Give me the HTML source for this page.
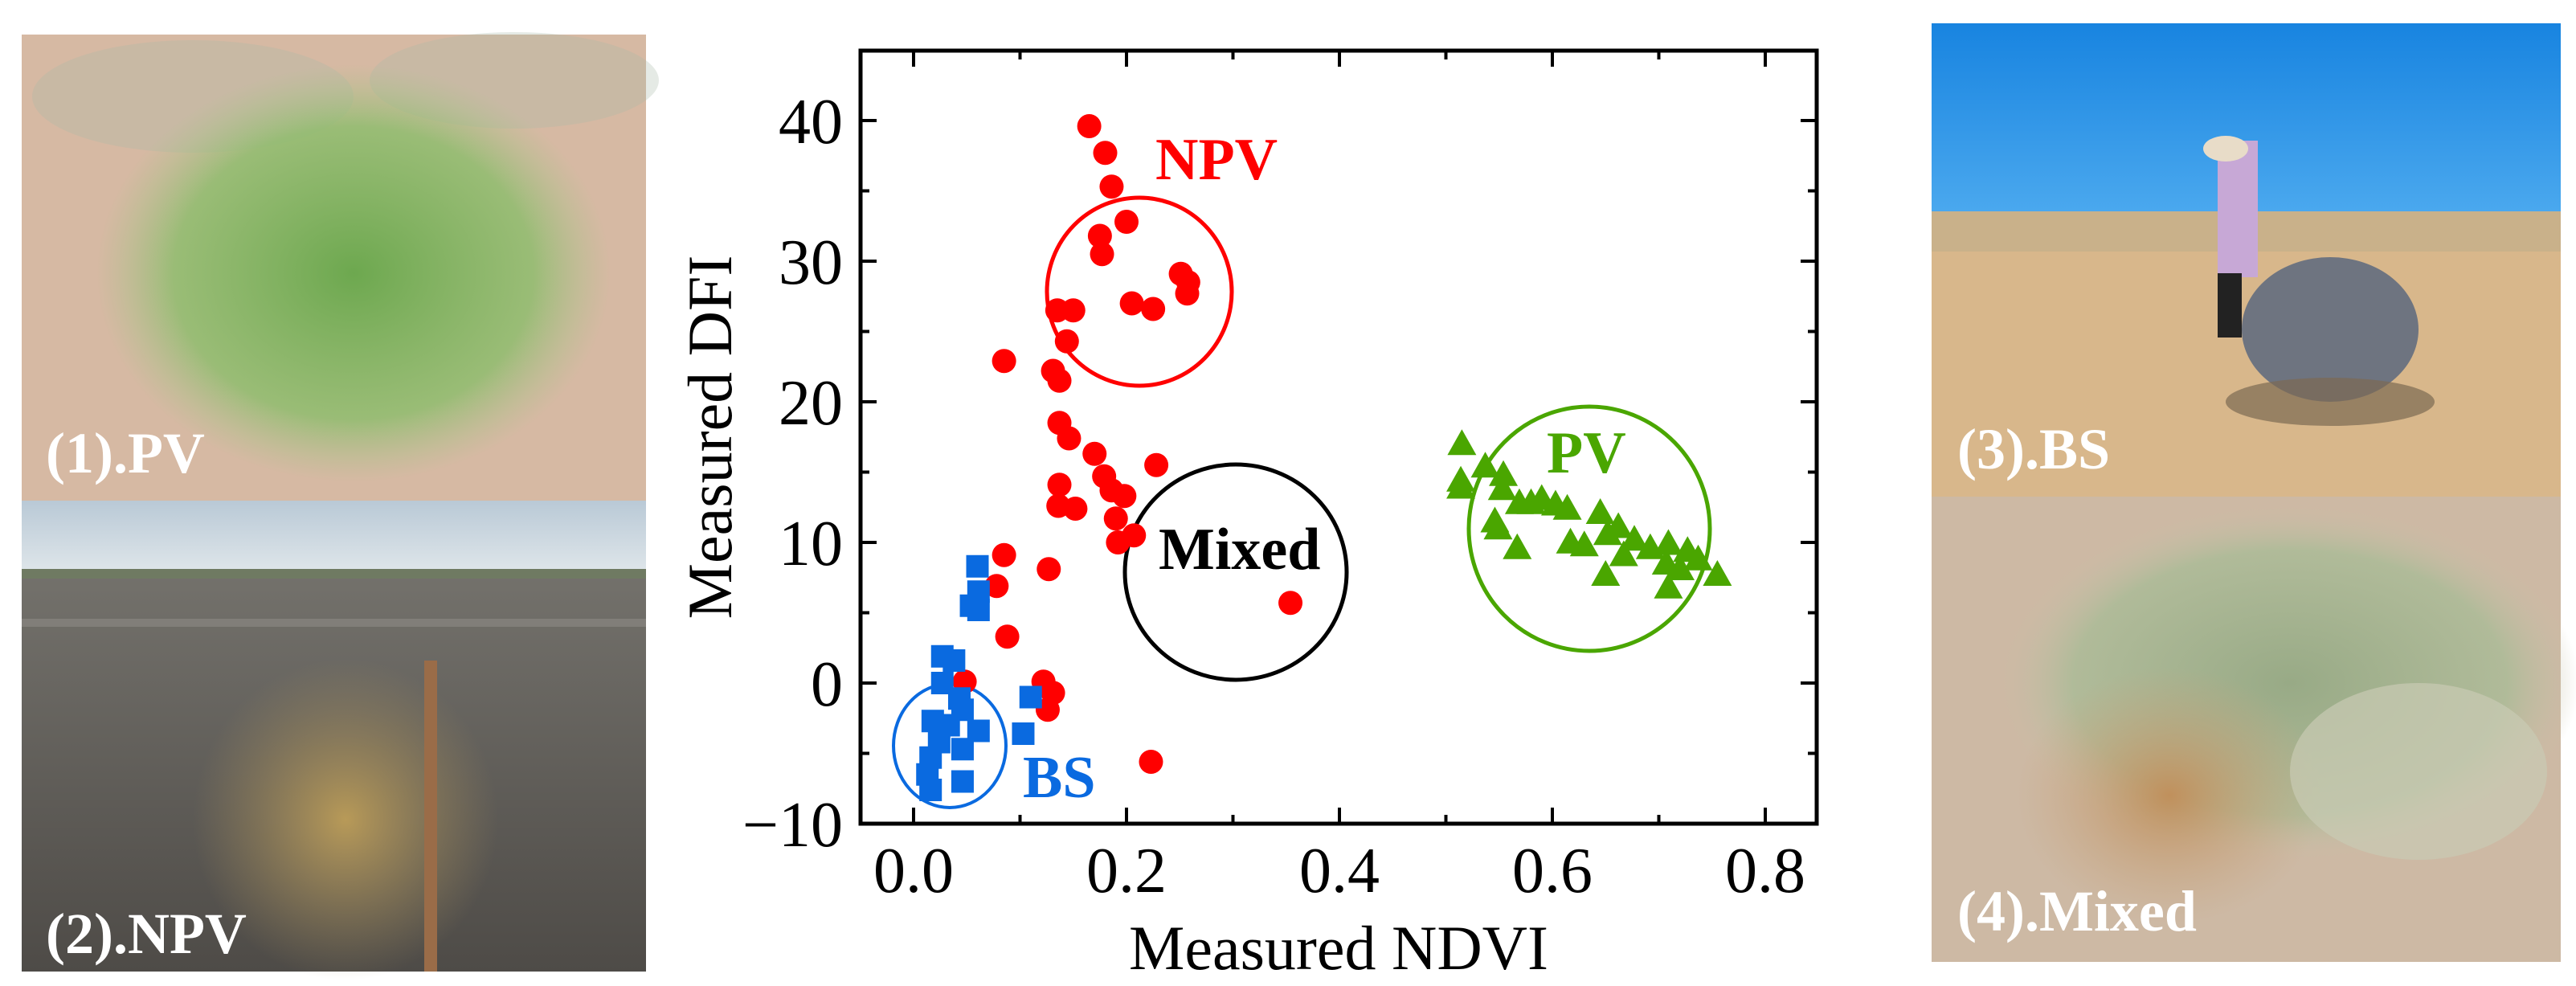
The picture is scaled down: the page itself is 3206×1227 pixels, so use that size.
<!DOCTYPE html>
<html><head><meta charset="utf-8"><style>
html,body{margin:0;padding:0;background:#fff;}
svg{display:block;font-family:"Liberation Serif","Times New Roman",serif;}
svg text{font-family:"Liberation Serif","Times New Roman",serif !important;}
</style></head><body>
<svg id="fig" width="3206" height="1227" viewBox="0 0 3206 1227" xmlns="http://www.w3.org/2000/svg" font-family="Liberation Serif, serif">
<defs>
<radialGradient id="g1" cx="0.5" cy="0.5" r="0.5"><stop offset="0" stop-color="#6da84f"/><stop offset="0.7" stop-color="#8fbd6e" stop-opacity="0.85"/><stop offset="1" stop-color="#a8c48a" stop-opacity="0"/></radialGradient>
<linearGradient id="sky2" x1="0" y1="0" x2="0" y2="1"><stop offset="0" stop-color="#b9c9d6"/><stop offset="1" stop-color="#dfe6ea"/></linearGradient>
<linearGradient id="gr2" x1="0" y1="0" x2="0" y2="1"><stop offset="0" stop-color="#7a7872"/><stop offset="1" stop-color="#4e4b47"/></linearGradient>
<linearGradient id="sky3" x1="0" y1="0" x2="0" y2="1"><stop offset="0" stop-color="#1884e0"/><stop offset="1" stop-color="#4aa8ee"/></linearGradient>
<radialGradient id="g4" cx="0.5" cy="0.5" r="0.5"><stop offset="0" stop-color="#98aa86"/><stop offset="0.75" stop-color="#adbb98" stop-opacity="0.9"/><stop offset="1" stop-color="#c8c0a8" stop-opacity="0"/></radialGradient>
<radialGradient id="b4" cx="0.5" cy="0.5" r="0.5"><stop offset="0" stop-color="#c0905c"/><stop offset="1" stop-color="#c8a47e" stop-opacity="0"/></radialGradient>
<radialGradient id="d2" cx="0.5" cy="0.5" r="0.5"><stop offset="0" stop-color="#b89a58"/><stop offset="1" stop-color="#a08a5c" stop-opacity="0"/></radialGradient>
</defs>

<g>
<rect x="27" y="43" width="777" height="580" fill="#d6b9a3"/>
<ellipse cx="240" cy="120" rx="200" ry="70" fill="#a9b9a8" opacity="0.3"/>
<ellipse cx="640" cy="100" rx="180" ry="60" fill="#a9b9a8" opacity="0.3"/>
<ellipse cx="440" cy="340" rx="320" ry="260" fill="url(#g1)"/>
<text x="57" y="588" font-size="72" font-weight="bold" fill="#fff" font-family="Liberation Serif, serif">(1).PV</text>
</g>
<g>
<rect x="27" y="623" width="777" height="586" fill="url(#gr2)"/>
<rect x="27" y="623" width="777" height="90" fill="url(#sky2)"/>
<rect x="27" y="708" width="777" height="12" fill="#6f7a62"/>
<rect x="27" y="770" width="777" height="10" fill="#8d8a85" opacity="0.6"/>
<ellipse cx="430" cy="1020" rx="190" ry="200" fill="url(#d2)"/>
<rect x="528" y="822" width="16" height="387" fill="#9a6c48"/>
<text x="57" y="1186" font-size="72" font-weight="bold" fill="#fff" font-family="Liberation Serif, serif">(2).NPV</text>
</g>
<g>
<rect x="2404" y="29" width="783" height="589" fill="#d8b78b"/>
<rect x="2404" y="29" width="783" height="234" fill="url(#sky3)"/>
<rect x="2404" y="263" width="783" height="50" fill="#c9b18a"/>
<rect x="2760" y="175" width="50" height="170" fill="#c7a8d6"/>
<ellipse cx="2770" cy="185" rx="28" ry="16" fill="#e8dcc8"/>
<rect x="2760" y="340" width="30" height="80" fill="#222"/>
<ellipse cx="2900" cy="410" rx="110" ry="90" fill="#6e7480"/>
<ellipse cx="2900" cy="500" rx="130" ry="30" fill="#7c6a52" opacity="0.7"/>
<text x="2436" y="583" font-size="72" font-weight="bold" fill="#fff" font-family="Liberation Serif, serif">(3).BS</text>
</g>
<g>
<rect x="2404" y="618" width="783" height="579" fill="#cdb9a4"/>
<ellipse cx="2850" cy="850" rx="360" ry="220" fill="url(#g4)"/>
<ellipse cx="2700" cy="990" rx="190" ry="160" fill="url(#b4)"/>
<ellipse cx="3010" cy="960" rx="160" ry="110" fill="#c9cbb4" opacity="0.7"/>
<text x="2436" y="1158" font-size="72" font-weight="bold" fill="#fff" font-family="Liberation Serif, serif">(4).Mixed</text>
</g>

<g id="chart" font-family="Liberation Serif, serif"></g>
</svg>
<script>
const xTicks=[0.0,0.2,0.4,0.6,0.8];
const xTickLabels=["0.0","0.2","0.4","0.6","0.8"];
const yTicks=[-10,0,10,20,30,40];
const yTickLabels=["\u221210","0","10","20","30","40"];
const npvX=[0.165,0.18,0.186,0.20,0.175,0.177,0.251,0.258,0.257,0.205,0.225,0.135,0.15,0.144,0.085,0.131,0.137,0.137,0.146,0.17,0.228,0.137,0.179,0.186,0.198,0.136,0.152,0.19,0.207,0.192,0.085,0.078,0.127,0.088,0.122,0.131,0.126,0.048,0.223,0.354];
const npvY=[39.6,37.7,35.3,32.8,31.8,30.5,29.1,28.5,27.7,27.0,26.6,26.5,26.5,24.3,22.9,22.2,21.5,18.5,17.4,16.3,15.5,14.1,14.7,13.7,13.3,12.6,12.4,11.7,10.5,10.0,9.1,6.9,8.1,3.3,0.1,-0.7,-1.9,0.1,-5.6,5.7];
const bsX=[0.06,0.061,0.054,0.061,0.027,0.038,0.027,0.043,0.018,0.046,0.061,0.016,0.046,0.013,0.016,0.046,0.11,0.103,0.033,0.024];
const bsY=[8.3,6.5,5.5,5.2,1.9,1.6,0.0,-1.1,-2.7,-1.9,-3.4,-5.3,-4.7,-6.5,-7.6,-7.0,-1.0,-3.6,-3.0,-4.2];
const pvX=[0.515,0.514,0.514,0.537,0.554,0.553,0.546,0.549,0.567,0.569,0.58,0.59,0.603,0.614,0.617,0.63,0.645,0.662,0.65,0.652,0.667,0.677,0.692,0.709,0.707,0.709,0.727,0.737,0.755,0.72];
const pvY=[16.9,14.3,13.8,15.3,14.7,13.7,11.4,10.9,9.5,12.7,12.7,13.0,12.6,12.3,9.9,9.7,12.0,11.0,7.6,10.5,9.0,10.1,9.5,9.8,8.4,6.7,9.3,8.7,7.6,8.0];

const NS="http://www.w3.org/2000/svg";
const L=1071,R=2261,T=63,B=1025;
const FF="Liberation Serif, serif";
const sx=v=>1137+v*1325;
const sy=v=>850-v*17.5;
const g=document.getElementById('chart');
function mk(tag,attrs,parent){const e=document.createElementNS(NS,tag);for(const k in attrs)e.setAttribute(k,attrs[k]);(parent||g).appendChild(e);return e;}

const ells=[["npv-circle",1418,363,115,117,"#ff0000",5],["mixed-circle",1538,712,138,134,"#000",5],["bs-circle",1182,928,70,77,"#0a6ae0",4],["pv-circle",1978,658,150,152,"#4aa600",5]];
ells.forEach(e=>{const el=mk('ellipse',{cx:e[1],cy:e[2],rx:e[3],ry:e[4],fill:'none',stroke:e[5],'stroke-width':e[6]});

});

npvX.forEach((v,i)=>{const c=mk('circle',{cx:sx(v),cy:sy(npvY[i]),r:15,fill:'#ff0000'});

});
bsX.forEach((v,i)=>{const s=mk('rect',{x:sx(v)-14,y:sy(bsY[i])-14,width:28,height:28,fill:'#0a6ae0'});

});
pvX.forEach((v,i)=>{const x=sx(v),y=sy(pvY[i]);const p=mk('polygon',{points:`${x-18},${y+12} ${x+18},${y+12} ${x},${y-20}`,fill:'#4aa600'});

});

[["npv-label","NPV",1438,223,"#ff0000"],["mixed-label","Mixed",1442,708,"#000"],["bs-label","BS",1273,992,"#0a6ae0"],["pv-label","PV",1925,588,"#4aa600"]].forEach(l=>{
const t=mk('text',{x:l[2],y:l[3],'font-size':74,'font-weight':'bold',fill:l[4],'font-family':FF});t.textContent=l[1];

});

const fr=mk('rect',{x:L,y:T,width:R-L,height:B-T,fill:'none',stroke:'#000','stroke-width':5});



for(let k=-1;k<=8;k++){const v=k/10;const x=sx(v);if(x<L+3||x>R-3)continue;const maj=k%2===0;const len=maj?20:11;
mk('line',{x1:x,y1:B,x2:x,y2:B-len,stroke:'#000','stroke-width':4});mk('line',{x1:x,y1:T,x2:x,y2:T+len,stroke:'#000','stroke-width':4});}
for(let v=-10;v<=45;v+=5){const y=sy(v);if(y<T+3||y>B-3)continue;const maj=v%10===0;const len=maj?20:11;
mk('line',{x1:L,y1:y,x2:L+len,y2:y,stroke:'#000','stroke-width':4});mk('line',{x1:R,y1:y,x2:R-len,y2:y,stroke:'#000','stroke-width':4});}

xTicks.forEach((v,i)=>{const t=mk('text',{x:sx(v),y:1110,'font-size':80,'text-anchor':'middle',fill:'#000','font-family':FF});t.textContent=xTickLabels[i];

});
yTicks.forEach((v,i)=>{const t=mk('text',{x:1049,y:sy(v)+28,'font-size':80,'text-anchor':'end',fill:'#000','font-family':FF});t.textContent=yTickLabels[i];

});

const xt=mk('text',{x:(L+R)/2,y:1206,'font-size':78,'text-anchor':'middle',fill:'#000','font-family':FF});xt.textContent='Measured NDVI';


const yt=mk('text',{x:0,y:0,'font-size':78,'text-anchor':'middle',fill:'#000','font-family':FF,transform:`translate(910,${(T+B)/2}) rotate(-90)`});yt.textContent='Measured DFI';


</script>
</body></html>
